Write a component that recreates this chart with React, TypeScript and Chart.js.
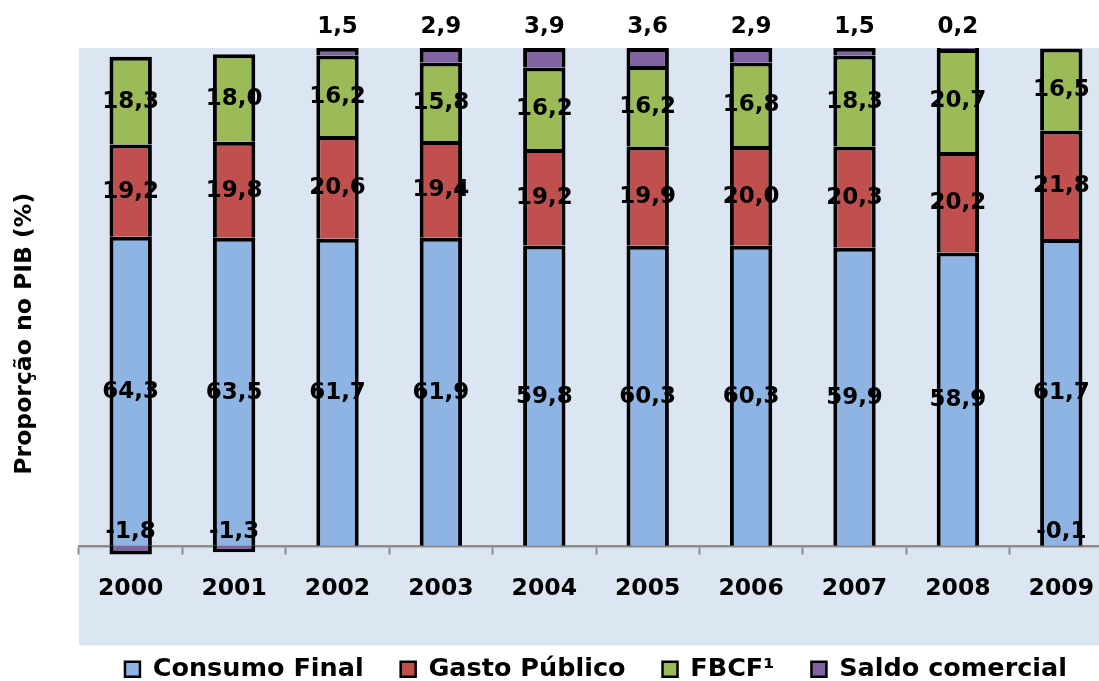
import { useEffect, useRef } from 'react';
import { Chart, registerables } from 'chart.js';

Chart.register(...registerables);

const years = ['2000', '2001', '2002', '2003', '2004', '2005', '2006', '2007', '2008', '2009'];
const consumoFinal = [64.3, 63.5, 61.7, 61.9, 59.8, 60.3, 60.3, 59.9, 58.9, 61.7];
const gastoPublico = [19.2, 19.8, 20.6, 19.4, 19.2, 19.9, 20.0, 20.3, 20.2, 21.8];
const fbcf = [18.3, 18.0, 16.2, 15.8, 16.2, 16.2, 16.8, 18.3, 20.7, 16.5];
const saldoComercial = [-1.8, -1.3, 1.5, 2.9, 3.9, 3.6, 2.9, 1.5, 0.2, -0.1];
const seriesNames = ['Consumo Final', 'Gasto Público', 'FBCF¹', 'Saldo comercial'];
const yTitle = 'Proporção no PIB (%)';

const rawSeries = [consumoFinal, gastoPublico, fbcf, saldoComercial];
// 100% stacked (as in the original spreadsheet): share of the sum of absolute values
const totals = years.map((_, i) => rawSeries.reduce((s, arr) => s + Math.abs(arr[i]), 0));
const toShare = (arr: number[]) => arr.map((v, i) => (v / totals[i]) * 100);

const fmt = (v: number) => v.toFixed(1).replace('.', ',');
const FONT = 'DejaVu Sans';

const bgPlugin = {
  id: 'plotBg',
  beforeDraw(chart: any) {
    const { ctx, chartArea: a } = chart;
    ctx.save();
    ctx.fillStyle = '#DCE6F2';
    ctx.fillRect(a.left, a.top, a.right - a.left, a.bottom + 26 - a.top);
    ctx.restore();
  },
};

const labelPlugin = {
  id: 'segLabels',
  afterDatasetsDraw(chart: any) {
    const ctx = chart.ctx;
    ctx.save();
    ctx.font = `bold 23px "${FONT}"`;
    ctx.fillStyle = '#000';
    ctx.textAlign = 'center';
    ctx.textBaseline = 'middle';
    const zero = chart.scales.y.getPixelForValue(0);
    rawSeries.forEach((arr, di) => {
      const meta = chart.getDatasetMeta(di);
      meta.data.forEach((el: any, i: number) => {
        const v = arr[i];
        const { x, y, base } = el.getProps(['x', 'y', 'base'], true);
        let ty: number;
        if (di === 3) {
          ty = v >= 0 ? Math.min(y, base) - 21 : zero - 14;
        } else {
          ty = (y + base) / 2 + 1;
        }
        ctx.fillText(fmt(v), x, ty);
      });
    });
    ctx.restore();
  },
};

export default function App() {
  const ref = useRef<HTMLCanvasElement | null>(null);

  useEffect(() => {
    if (!ref.current) return;
    const colors = ['#8EB4E3', '#C0504D', '#9BBB59', '#8064A2'];
    const chart = new Chart(ref.current, {
      type: 'bar',
      data: {
        labels: years,
        datasets: rawSeries.map((arr, i) => ({
          label: seriesNames[i],
          data: toShare(arr),
          backgroundColor: colors[i],
          borderColor: '#000000',
          borderWidth: 4,
          borderSkipped: 'start',
          inflateAmount: 0,
          barPercentage: 0.41,
          categoryPercentage: 1,
        })),
      },
      options: {
        responsive: false,
        animation: false,
        devicePixelRatio: 1,
        layout: { padding: { left: 0, right: 0, top: 48, bottom: 0 } },
        plugins: {
          tooltip: { enabled: false },
          legend: {
            display: true,
            position: 'bottom',
            fullSize: false,
            labels: {
              color: '#000',
              font: { family: FONT, weight: 'bold', size: 25.5 },
              boxWidth: 15,
              boxHeight: 15,
              padding: 37,
              generateLabels: (c: any) =>
                Chart.defaults.plugins.legend.labels.generateLabels(c).map((l: any) => ({
                  ...l,
                  lineWidth: 2.5,
                  strokeStyle: '#000',
                })),
            },
          },
        },
        scales: {
          x: {
            type: 'category',
            stacked: true,
            position: { y: 0 },
            offset: true,
            z: 1,
            grid: {
              display: true,
              offset: true,
              drawOnChartArea: false,
              drawTicks: true,
              tickLength: 7,
              tickColor: '#8C8C8C',
              tickWidth: 2,
            },
            border: { display: true, color: '#8C8C8C', width: 2.5 },
            ticks: {
              padding: 22,
              color: '#000',
              font: { family: FONT, weight: 'bold', size: 23.5 },
            },
            afterFit(scale: any) {
              scale.paddingLeft = 0;
              scale.paddingRight = 0;
            },
          },
          y: {
            stacked: true,
            min: -14.8,
            max: 100,
            grid: { display: false, drawTicks: false, tickLength: 0 },
            border: { display: false },
            ticks: { display: false },
            title: {
              display: true,
              text: yTitle,
              color: '#000',
              font: { family: FONT, weight: 'bold', size: 23.5 },
              padding: { top: 10.9, bottom: 39.9 },
            },
          },
        },
      } as any,
      plugins: [bgPlugin, labelPlugin],
    });
    return () => chart.destroy();
  }, []);

  return (
    <div
      style={{
        position: 'fixed',
        left: 0,
        top: 0,
        width: '1099px',
        height: '681px',
        overflow: 'hidden',
        background: '#ffffff',
      }}
    >
      <canvas ref={ref} width={1113} height={692} style={{ display: 'block', width: '1113px', height: '692px' }} />
    </div>
  );
}
